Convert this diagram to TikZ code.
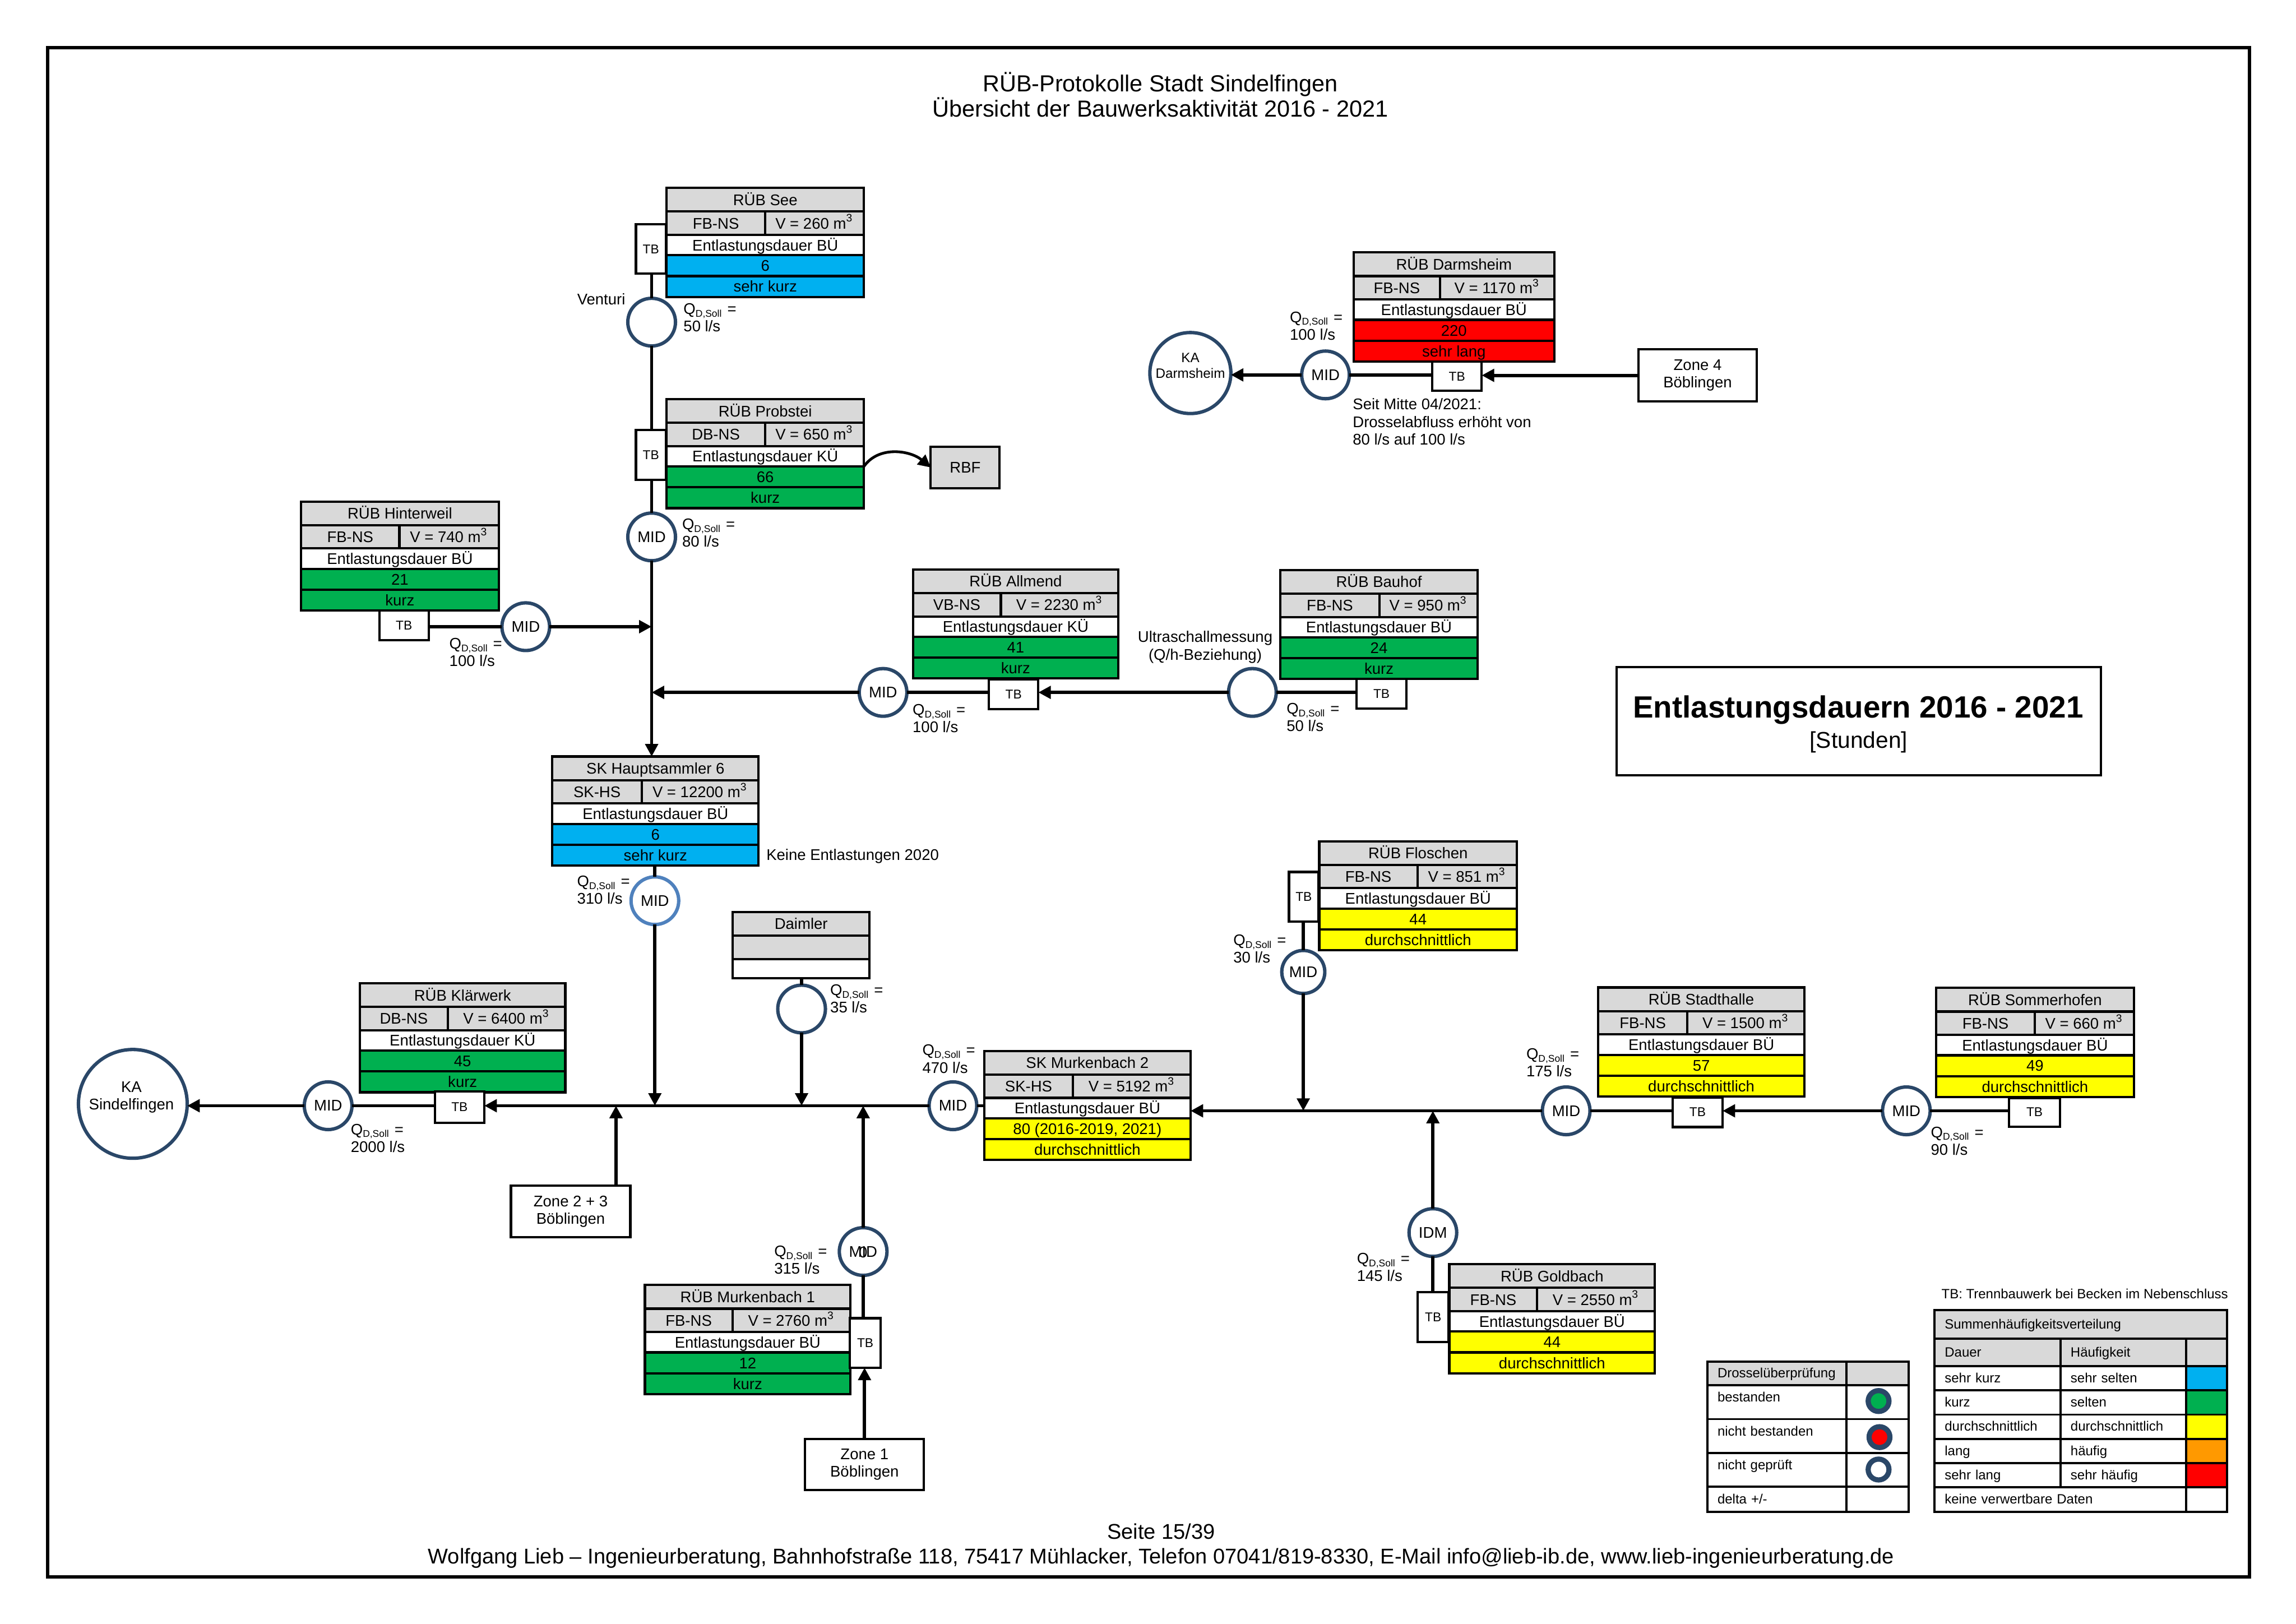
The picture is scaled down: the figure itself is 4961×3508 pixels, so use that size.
\documentclass[tikz,border=0pt]{standalone}
\usepackage{fontspec}
\setmainfont{Liberation Sans}
\usetikzlibrary{arrows.meta,positioning}
\definecolor{kopfgrau}{HTML}{D9D9D9}
\definecolor{sehrkurz}{HTML}{00B0F0}
\definecolor{kurz}{HTML}{00B050}
\definecolor{mittel}{HTML}{FFFF00}
\definecolor{lang}{HTML}{FF9900}
\definecolor{sehrlang}{HTML}{FF0000}
\definecolor{ringblau}{HTML}{2A4768}
\definecolor{ringhell}{HTML}{4F81BD}
\newcommand{\pxu}{0.05987mm}
\newcommand{\fontNorm}{\fontsize{5.68}{6.45}\selectfont}
\newcommand{\fontLeg}{\fontsize{4.95}{6}\selectfont}
\newcommand{\qsoll}[1]{Q\textsubscript{\fontsize{3.6}{3.6}\selectfont D,Soll} =\\#1 l/s}
% Kopf eines Beckens: Name, Ecke, Breite, Breite links, Titel, Typ, Volumen, Zeile
\newcommand{\rubhead}[8]{%
  \def\rubw{#3}
  \node[cell, fill=kopfgrau, minimum width=#3*\pxu, minimum height=51*\pxu] (#1title) at ([shift={(1.5,1.5)}]#2) {#5};
  \node[cell, fill=kopfgrau, minimum width=#4*\pxu, minimum height=50.5*\pxu] (#1kind) at (#1title.south west) {#6};
  \node[cell, fill=kopfgrau, minimum width=(#3-#4)*\pxu, minimum height=50.5*\pxu] (#1vol) at (#1kind.north east) {V = #7 m\textsuperscript{3}};
  \node[cell, fill=white, minimum width=#3*\pxu, minimum height=44*\pxu] (#1label) at (#1kind.south west) {#8};
}
% Fuss eines Beckens: Name, Wert, Klasse, Farbe
\newcommand{\rubfoot}[4]{%
  \node[cell, fill=#4, minimum width=\rubw*\pxu, minimum height=45*\pxu] (#1value) at (#1label.south west) {#2};
  \node[cell, fill=#4, minimum width=\rubw*\pxu, minimum height=45*\pxu] (#1class) at (#1value.south west) {#3};
}

\begin{document}
\begin{tikzpicture}[
  x=\pxu, y=-\pxu,
  % Tabellenzellen
  cell/.style={draw=black, line width=0.85pt, inner sep=0pt, outer sep=0pt, anchor=north west, align=center, font=\fontNorm, text height=28*\pxu, text depth=4*\pxu},
  legcell/.style={draw=black, line width=0.8pt, inner sep=0pt, outer sep=0pt, anchor=north west, font=\fontLeg, align=left, text height=24*\pxu, text depth=5*\pxu},
  toprow/.style={text depth=25*\pxu},
  % Kaesten und Messstellen
  tbbox/.style={draw=black, line width=0.85pt, fill=white, inner sep=0pt, outer sep=0pt, font=\fontsize{4.7}{5.6}\selectfont},
  zonebox/.style={draw=black, line width=0.85pt, fill=white, inner sep=0pt, outer sep=0pt, align=center, font=\fontNorm},
  meas/.style={circle, draw=ringblau, line width=1.25pt, fill=white, inner sep=0pt, outer sep=0pt, minimum size=103*\pxu, font=\fontNorm},
  dotmark/.style={circle, draw=ringblau, line width=1.9pt, inner sep=0pt, outer sep=0pt, minimum size=45*\pxu},
  % Beschriftung
  note/.style={inner sep=0pt, outer sep=0pt, anchor=west, align=left, font=\fontNorm},
  % Leitungen
  pipe/.style={line width=1.2pt},
  flow/.style={line width=1.2pt, -{Triangle[width=4.6pt,length=4.6pt]}}
]
\useasboundingbox (0,0) rectangle (4961,3508);
\draw[line width=1.2pt] (103,103) rectangle (4860,3407);

\node[inner sep=0pt, align=center, font=\fontsize{8.55}{9.3}\selectfont] (kopftext) at (2507,204) {RÜB-Protokolle Stadt Sindelfingen\\Übersicht der Bauwerksaktivität 2016 - 2021};
\node[inner sep=0pt, align=center, font=\fontsize{7.85}{9.15}\selectfont] (fusstext) at (2509,3340) {Seite 15/39\\Wolfgang Lieb – Ingenieurberatung, Bahnhofstraße 118, 75417 Mühlacker, Telefon 07041/819-8330, E-Mail info@lieb-ib.de, www.lieb-ingenieurberatung.de};

% Titelkasten
\node[draw=black, line width=0.85pt, inner sep=0pt, minimum width=1046*\pxu, minimum height=234*\pxu] (titelbox) at (4016,1558) {};
\node[inner sep=0pt, font=\fontsize{11.3}{13}\selectfont\bfseries] (titelzeile) at (4015,1534) {Entlastungsdauern 2016 - 2021};
\node[inner sep=0pt, font=\fontsize{8.4}{10}\selectfont] (titeleinheit) at (4016,1603) {[Stunden]};

% Becken
\rubhead{see}{1439,404.5}{426}{212.5}{RÜB See}{FB-NS}{260}{Entlastungsdauer BÜ}
\rubfoot{see}{6}{sehr kurz}{sehrkurz}
\rubhead{probstei}{1439,861}{426}{212.5}{RÜB Probstei}{DB-NS}{650}{Entlastungsdauer KÜ}
\rubfoot{probstei}{66}{kurz}{kurz}
\rubhead{darmsheim}{2923,544}{434}{187}{RÜB Darmsheim}{FB-NS}{1170}{Entlastungsdauer BÜ}
\rubfoot{darmsheim}{220}{sehr lang}{sehrlang}
\rubhead{hinterweil}{649,1082}{427}{212.5}{RÜB Hinterweil}{FB-NS}{740}{Entlastungsdauer BÜ}
\rubfoot{hinterweil}{21}{kurz}{kurz}
\rubhead{allmend}{1971,1229}{444}{190}{RÜB Allmend}{VB-NS}{2230}{Entlastungsdauer KÜ}
\rubfoot{allmend}{41}{kurz}{kurz}
\rubhead{bauhof}{2765,1230}{426}{214}{RÜB Bauhof}{FB-NS}{950}{Entlastungsdauer BÜ}
\rubfoot{bauhof}{24}{kurz}{kurz}
\rubhead{haupt}{1192,1633}{445.5}{193}{SK Hauptsammler 6}{SK-HS}{12200}{Entlastungsdauer BÜ}
\rubfoot{haupt}{6}{sehr kurz}{sehrkurz}
\rubhead{klaerwerk}{776,2123}{444}{190}{RÜB Klärwerk}{DB-NS}{6400}{Entlastungsdauer KÜ}
\rubfoot{klaerwerk}{45}{kurz}{kurz}
\rubhead{floschen}{2849,1816}{427}{212}{RÜB Floschen}{FB-NS}{851}{Entlastungsdauer BÜ}
\rubfoot{floschen}{44}{durchschnittlich}{mittel}
\rubhead{stadthalle}{3452,2132}{445}{192}{RÜB Stadthalle}{FB-NS}{1500}{Entlastungsdauer BÜ}
\rubfoot{stadthalle}{57}{durchschnittlich}{mittel}
\rubhead{sommerhofen}{4182,2133}{427}{213}{RÜB Sommerhofen}{FB-NS}{660}{Entlastungsdauer BÜ}
\rubfoot{sommerhofen}{49}{durchschnittlich}{mittel}
\rubhead{murkzwei}{2125,2269}{446}{192}{SK Murkenbach 2}{SK-HS}{5192}{Entlastungsdauer BÜ}
\rubfoot{murkzwei}{80 (2016-2019, 2021)}{durchschnittlich}{mittel}
\rubhead{murkeins}{1392,2775}{444}{189}{RÜB Murkenbach 1}{FB-NS}{2760}{Entlastungsdauer BÜ}
\rubfoot{murkeins}{12}{kurz}{kurz}
\rubhead{goldbach}{3130,2730}{444}{190}{RÜB Goldbach}{FB-NS}{2550}{Entlastungsdauer BÜ}
\rubfoot{goldbach}{44}{durchschnittlich}{mittel}

% Daimler hat nur den Namen
\node[cell, fill=kopfgrau, minimum width=296*\pxu, minimum height=51*\pxu] (daimlertitle) at (1583,1970.5) {Daimler};
\node[cell, fill=kopfgrau, minimum width=296*\pxu, minimum height=50.5*\pxu] (daimlerkind) at (daimlertitle.south west) {};
\node[cell, fill=white, minimum width=296*\pxu, minimum height=42*\pxu] (daimlerlabel) at (daimlerkind.south west) {};

% Trennbauwerke
\node[tbbox, minimum width=65*\pxu, minimum height=106*\pxu] (tbSee) at (1406.5,538) {TB};
\node[tbbox, minimum width=65*\pxu, minimum height=107*\pxu] (tbProbstei) at (1406.5,983) {TB};
\node[tbbox, minimum width=107*\pxu, minimum height=63*\pxu] (tbDarmsheim) at (3148,813) {TB};
\node[tbbox, minimum width=107*\pxu, minimum height=64*\pxu] (tbHinterweil) at (873,1351) {TB};
\node[tbbox, minimum width=107*\pxu, minimum height=65*\pxu] (tbAllmend) at (2190,1500) {TB};
\node[tbbox, minimum width=107*\pxu, minimum height=64*\pxu] (tbBauhof) at (2985,1499) {TB};
\node[tbbox, minimum width=107*\pxu, minimum height=68*\pxu] (tbKlaerwerk) at (993,2392) {TB};
\node[tbbox, minimum width=64*\pxu, minimum height=107*\pxu] (tbFloschen) at (2817,1937.5) {TB};
\node[tbbox, minimum width=108*\pxu, minimum height=64*\pxu] (tbStadthalle) at (3668,2403) {TB};
\node[tbbox, minimum width=110*\pxu, minimum height=62*\pxu] (tbSommerhofen) at (4396,2403) {TB};
\node[tbbox, minimum width=67*\pxu, minimum height=107*\pxu] (tbMurkeins) at (1869.5,2901.5) {TB};
\node[tbbox, minimum width=67*\pxu, minimum height=107*\pxu] (tbGoldbach) at (3096.5,2845.5) {TB};

% Messstellen
\node[meas] (venturi) at (1408,696) {};
\node[meas] (midProbstei) at (1408,1160) {MID};
\node[meas] (midDarmsheim) at (2864,810) {MID};
\node[meas] (midHinterweil) at (1136,1354) {MID};
\node[meas] (midAllmend) at (1908,1496) {MID};
\node[meas] (ultraschall) at (2706,1496) {};
\node[meas, draw=ringhell] (midHaupt) at (1415,1946) {MID};
\node[meas] (messDaimler) at (1732,2180) {};
\node[meas] (midKlaerwerk) at (709,2389) {MID};
\node[meas] (midMurkzwei) at (2059,2389) {MID};
\node[meas] (midMurkeins) at (1865,2704) {MID};
\node[inner sep=0pt, font=\fontNorm] (nullMurkeins) at (1865,2706) {0};
\node[meas, minimum size=93*\pxu] (midFloschen) at (2816,2100) {MID};
\node[meas] (midStadthalle) at (3384,2400) {MID};
\node[meas] (midSommerhofen) at (4119,2400) {MID};
\node[meas] (idm) at (3096,2663) {IDM};

% Klaeranlagen, Zonen, RBF
\node[meas, minimum size=175*\pxu] (kaDarmsheim) at (2572,806) {};
\node[note, anchor=center, align=center, font=\fontsize{5}{5.8}\selectfont] (kaDarmsheimtext) at (2572,790) {KA\\Darmsheim};
\node[meas, minimum size=235*\pxu] (kaSindelfingen) at (287,2385) {};
\node[note, anchor=center, align=center] (kaSindelfingentext) at (284,2371) {KA\\Sindelfingen};
\node[zonebox, minimum width=256*\pxu, minimum height=112*\pxu] (zoneVier) at (3668,811) {Zone 4\\Böblingen};
\node[zonebox, minimum width=258*\pxu, minimum height=111*\pxu] (zoneZwei) at (1233,2617.5) {Zone 2 + 3\\Böblingen};
\node[zonebox, minimum width=257*\pxu, minimum height=110*\pxu] (zoneEins) at (1868,3164) {Zone 1\\Böblingen};
\node[zonebox, fill=kopfgrau, minimum width=149*\pxu, minimum height=89*\pxu] (rbf) at (2085.5,1010) {RBF};

% Mengen und Hinweise
\node[note] (qSee) at (1477,686) {\qsoll{50}};
\node[note] (qProbstei) at (1474,1151) {\qsoll{80}};
\node[note] (qDarmsheim) at (2787,704) {\qsoll{100}};
\node[note] (qHinterweil) at (971,1409) {\qsoll{100}};
\node[note] (qAllmend) at (1972,1552) {\qsoll{100}};
\node[note] (qBauhof) at (2780,1550) {\qsoll{50}};
\node[note] (qHaupt) at (1247,1923) {\qsoll{310}};
\node[note] (qDaimler) at (1794,2158) {\qsoll{35}};
\node[note] (qKlaerwerk) at (758,2459) {\qsoll{2000}};
\node[note] (qMurkzwei) at (1993,2288) {\qsoll{470}};
\node[note] (qMurkeins) at (1673,2722) {\qsoll{315}};
\node[note] (qFloschen) at (2665,2050) {\qsoll{30}};
\node[note] (qStadthalle) at (3298,2296) {\qsoll{175}};
\node[note] (qSommerhofen) at (4172,2465) {\qsoll{90}};
\node[note] (qGoldbach) at (2932,2738) {\qsoll{145}};
\node[note, anchor=east] (venturitext) at (1351,646) {Venturi};
\node[note, anchor=center, align=center] (ultratext) at (2604,1398) {Ultraschallmessung\\(Q/h-Beziehung)};
\node[note, font=\fontsize{5.68}{6.6}\selectfont] (seitMitte) at (2923,911) {Seit Mitte 04/2021:\\Drosselabfluss erhöht von\\80 l/s auf 100 l/s};
\node[note] (keineEntl) at (1656,1850) {Keine Entlastungen 2020};

% Leitungen oben
\draw[pipe] (venturi.north) -- (venturi.north |- tbSee.south);
\draw[pipe] (venturi.south) -- (venturi.south |- tbProbstei.north);
\draw[pipe] (midProbstei.north) -- (midProbstei.north |- tbProbstei.south);
\draw[flow] (midProbstei.south) -- (midProbstei.south |- haupttitle.north);
\draw[flow] (midHinterweil.east) -- (midProbstei.south |- midHinterweil.east);
\draw[pipe] (midHinterweil.west) -- (midHinterweil.west -| tbHinterweil.east);
\draw[flow] (midAllmend.west) -- (midProbstei.south |- midAllmend.west);
\draw[pipe] (midAllmend.east) -- (midAllmend.east -| tbAllmend.west);
\draw[flow] (ultraschall.west) -- (ultraschall.west -| tbAllmend.east);
\draw[pipe] (ultraschall.east) -- (ultraschall.east -| tbBauhof.west);
\draw[flow, line width=1pt] (probsteilabel.south east) to[out=55, in=140] (rbf.west);

% Darmsheim
\draw[flow] (midDarmsheim.west) -- (midDarmsheim.west -| kaDarmsheim.east);
\draw[pipe] (midDarmsheim.east) -- (midDarmsheim.east -| tbDarmsheim.west);
\draw[flow] (zoneVier.west) -- (zoneVier.west -| tbDarmsheim.east);

% Sammler links
\draw[pipe] (midHaupt.north) -- (midHaupt.north |- hauptclass.south);
\draw[flow] (midHaupt.south) -- (midHaupt.south |- midMurkzwei.west);
\draw[pipe] (messDaimler.north) -- (messDaimler.north |- daimlerlabel.south);
\draw[flow] (messDaimler.south) -- (messDaimler.south |- midMurkzwei.west);
\draw[flow] (midMurkzwei.west) -- (midMurkzwei.west -| tbKlaerwerk.east);
\draw[pipe] (midKlaerwerk.east) -- (midKlaerwerk.east -| tbKlaerwerk.west);
\draw[flow] (midKlaerwerk.west) -- (midKlaerwerk.west -| kaSindelfingen.east);
\draw[flow] ([xshift=98*\pxu]zoneZwei.north) -- ([xshift=98*\pxu]zoneZwei.north |- midMurkzwei.west);
\draw[flow] (midMurkeins.north) -- (midMurkeins.north |- midMurkzwei.west);
\draw[pipe] (midMurkeins.south) -- (midMurkeins.south |- tbMurkeins.north);
\draw[flow] (zoneEins.north) -- (zoneEins.north |- tbMurkeins.south);
\draw[pipe] (midMurkzwei.east) -- (midMurkzwei.east -| murkzweititle.west);

% Sammler rechts
\draw[flow] (midStadthalle.west) -- (midStadthalle.west -| murkzweilabel.east);
\draw[pipe] (midStadthalle.east) -- (midStadthalle.east -| tbStadthalle.west);
\draw[flow] (midSommerhofen.west) -- (midSommerhofen.west -| tbStadthalle.east);
\draw[pipe] (midSommerhofen.east) -- (midSommerhofen.east -| tbSommerhofen.west);
\draw[flow] (midFloschen.south) -- (midFloschen.south |- midStadthalle.west);
\draw[pipe] (midFloschen.north) -- (midFloschen.north |- tbFloschen.south);
\draw[flow] (idm.north) -- (idm.north |- midStadthalle.west);
\draw[pipe] (idm.south) -- (idm.south |- tbGoldbach.north);

% Legende Drossel
\node[note, font=\fontLeg] (tbhinweis) at (4195,2795) {TB: Trennbauwerk bei Becken im Nebenschluss};
\node[legcell, fill=kopfgrau, minimum width=301*\pxu, minimum height=51.5*\pxu, text width=257*\pxu, inner xsep=22*\pxu] (drkopf) at (3689,2941.5) {Drosselüberprüfung};
\node[legcell, fill=kopfgrau, minimum width=134*\pxu, minimum height=51.5*\pxu] (drkopfb) at (3990,2941.5) {};
\foreach \i/\dtext in {0/bestanden, 1/nicht bestanden, 2/nicht geprüft} {
  \pgfmathsetmacro\yy{2993+\i*73}
  \node[legcell, toprow, minimum width=301*\pxu, minimum height=73*\pxu, text width=257*\pxu, inner xsep=22*\pxu] (drtext\i) at (3689,\yy) {\dtext};
  \node[legcell, minimum width=134*\pxu, minimum height=73*\pxu] (drmark\i) at (3990,\yy) {};
}
\node[legcell, minimum width=301*\pxu, minimum height=54*\pxu, text width=257*\pxu, inner xsep=22*\pxu] (drdelta) at (3689,3212) {delta +/-};
\node[legcell, minimum width=134*\pxu, minimum height=54*\pxu] (drdeltab) at (3990,3212) {};
\node[dotmark, fill=kurz] (dotgruen) at (4059,3027) {};
\node[dotmark, fill=sehrlang] (dotrot) at (4061,3105) {};
\node[dotmark, fill=white] (dotweiss) at (4059,3175) {};

% Legende Haeufigkeit
\node[legcell, fill=kopfgrau, minimum width=632*\pxu, minimum height=62*\pxu, text width=588*\pxu, inner xsep=22*\pxu] (shkopf) at (4180,2830) {Summenhäufigkeitsverteilung};
\node[legcell, fill=kopfgrau, minimum width=272*\pxu, minimum height=60*\pxu, text width=228*\pxu, inner xsep=22*\pxu] (shdauer) at (4180,2892) {Dauer};
\node[legcell, fill=kopfgrau, minimum width=272*\pxu, minimum height=60*\pxu, text width=228*\pxu, inner xsep=22*\pxu] (shhaeuf) at (4452,2892) {Häufigkeit};
\node[legcell, fill=kopfgrau, minimum width=88*\pxu, minimum height=60*\pxu] (shfarbe) at (4724,2892) {};
\foreach \i/\da/\ha/\fa in {0/sehr kurz/sehr selten/sehrkurz, 1/kurz/selten/kurz, 2/durchschnittlich/durchschnittlich/mittel, 3/lang/häufig/lang, 4/sehr lang/sehr häufig/sehrlang} {
  \pgfmathsetmacro\yy{2952+\i*52.2}
  \node[legcell, minimum width=272*\pxu, minimum height=52.2*\pxu, text width=228*\pxu, inner xsep=22*\pxu] (shd\i) at (4180,\yy) {\da};
  \node[legcell, minimum width=272*\pxu, minimum height=52.2*\pxu, text width=228*\pxu, inner xsep=22*\pxu] (shh\i) at (4452,\yy) {\ha};
  \node[legcell, fill=\fa, minimum width=88*\pxu, minimum height=52.2*\pxu] (shf\i) at (4724,\yy) {};
}
\node[legcell, minimum width=544*\pxu, minimum height=53*\pxu, text width=500*\pxu, inner xsep=22*\pxu] (shkeine) at (4180,3213) {keine verwertbare Daten};
\node[legcell, minimum width=88*\pxu, minimum height=53*\pxu] (shkeineb) at (4724,3213) {};

\end{tikzpicture}
\end{document}
